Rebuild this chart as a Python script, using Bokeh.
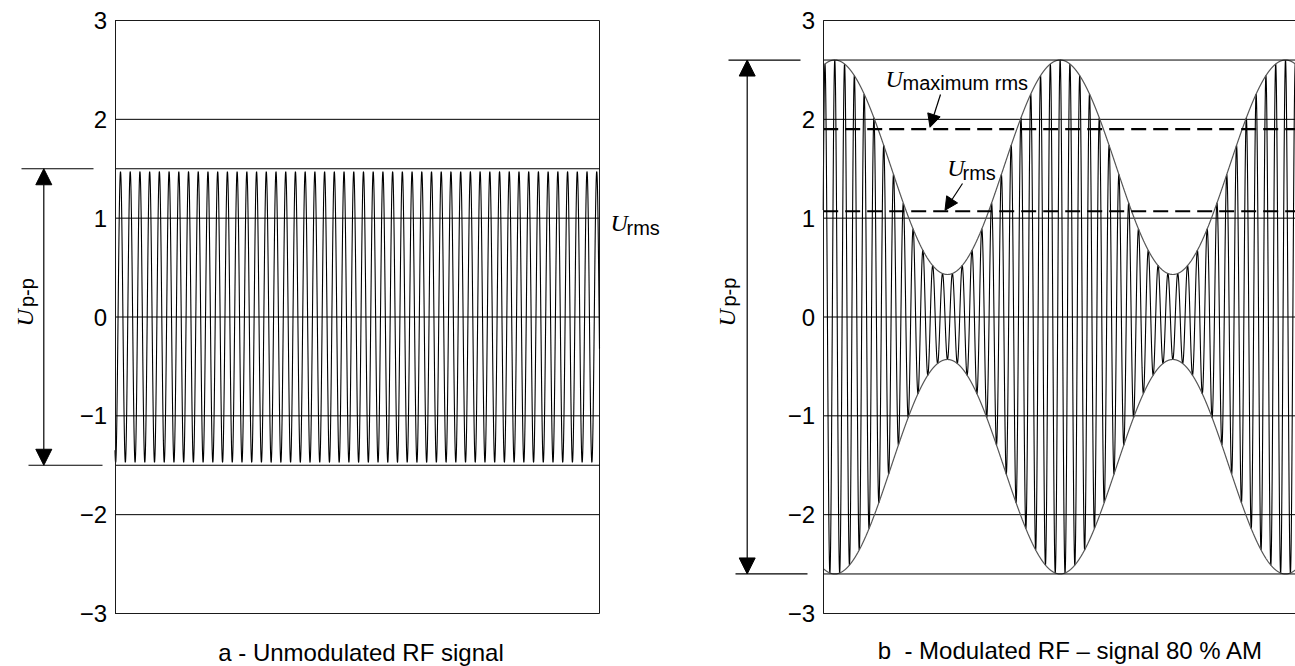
import numpy as np
from bokeh.plotting import figure
from bokeh.layouts import row
from bokeh.models import (Range1d, FixedTicker, LinearAxis, Label, Arrow,
                          NormalHead)
from bokeh.embed import file_html
from bokeh.resources import INLINE

# ---------------- data ----------------
y_ticks = [-3, -2, -1, 0, 1, 2, 3]
y_tick_labels = ["\u22123", "\u22122", "\u22121", "0", "1", "2", "3"]
grid_levels = [-2, -1, 0, 1, 2]

# panel a : unmodulated RF carrier
a_periods_shown = 49.85   # carrier periods across the plot box
a_amplitude = 1.47        # crest value
a_first_crest = 0.565     # position of the first crest (periods)
a_pp_level = 1.5          # U p-p marker level (+/-)
a_rms_level = 1.0

# panel b : 80 % AM modulated carrier
b_periods_shown = 48.2
b_env_mean = 1.515        # mean envelope value
b_env_swing = 1.085       # envelope swing
b_env_period = 23.0       # carrier periods per modulation period
b_first_crest = 1.18
b_pp_level = 2.6
b_max_rms = 1.9
b_rms = 1.07

caption_a = "a - Unmodulated RF signal"
caption_b = "b \u00a0- Modulated RF \u2013 signal 80 % AM"

SANS = "Liberation Sans"
SERIF = "Liberation Serif"
INK = "#1a1a1a"

# ---------------- layout geometry (page pixels) ----------------
H = 666
BOX_TOP, BOX_BOTTOM = 20, 613
PPU = (BOX_BOTTOM - BOX_TOP) / 6.0     # pixels per volt
LABEL_SHIFT = 8                         # compensation for label anchoring

# waveforms
t_a = np.linspace(0, a_periods_shown, 6000)
y_a = a_amplitude * np.cos(2 * np.pi * (t_a - a_first_crest))

t_b = np.linspace(0, b_periods_shown, 6000)
env_b = b_env_mean + b_env_swing * np.cos(2 * np.pi * (t_b - b_first_crest) / b_env_period)
y_b = env_b * np.cos(2 * np.pi * (t_b - b_first_crest))


class Panel:
    def __init__(self, page_x0, width, box_left, box_right, periods):
        self.page_x0 = page_x0
        self.box_left = box_left
        self.ppx = (box_right - box_left) / periods
        self.periods = periods
        x0 = (page_x0 - box_left) / self.ppx
        x1 = (page_x0 + width - box_left) / self.ppx
        y0 = -3 - (H - BOX_BOTTOM) / PPU
        y1 = 3 + BOX_TOP / PPU
        p = figure(width=width, height=H, x_range=Range1d(x0, x1),
                   y_range=Range1d(y0, y1), output_backend="svg",
                   toolbar_location=None, min_border=0,
                   x_axis_location=None, y_axis_location=None)
        p.outline_line_color = None
        p.background_fill_color = "white"
        p.border_fill_color = "white"
        p.grid.visible = False
        ya = LinearAxis(fixed_location=0, bounds=(-3, 3),
                        ticker=FixedTicker(ticks=y_ticks))
        ya.major_label_overrides = {t: s for t, s in zip(y_ticks, y_tick_labels)}
        ya.major_tick_line_color = None
        ya.minor_tick_line_color = None
        ya.major_tick_out = 0
        ya.major_tick_in = 0
        ya.major_label_standoff = 8
        ya.major_label_text_font = SANS
        ya.major_label_text_font_size = "24px"
        ya.major_label_text_color = "black"
        ya.axis_line_color = INK
        ya.axis_line_width = 1
        p.add_layout(ya, "left")
        self.p = p

    def X(self, px):
        return (px - self.box_left) / self.ppx

    def Y(self, py):
        return (BOX_BOTTOM + BOX_TOP) / 2.0 / PPU - py / PPU

    def seg(self, x0, x1, y0, y1, heads=None, width=1.2, size=16):
        kw = dict(x_start=x0, y_start=y0, x_end=x1, y_end=y1,
                  line_color="black", line_width=width, start=None, end=None)
        if heads in ("both", "start"):
            kw["start"] = NormalHead(size=size, fill_color="black", line_color="black")
        if heads in ("both", "end"):
            kw["end"] = NormalHead(size=size, fill_color="black", line_color="black")
        self.p.add_layout(Arrow(**kw))

    def _label(self, px, py, text, font, style, size, angle, align="left"):
        # text baseline given in page pixels; shift against the anchoring offset
        if angle:
            px = px - LABEL_SHIFT
        else:
            py = py - LABEL_SHIFT
        self.p.add_layout(Label(x=self.X(px), y=self.Y(py), text=text,
                                text_font=font, text_font_style=style,
                                text_font_size=size, text_color="black",
                                angle=angle, text_baseline="alphabetic",
                                text_align=align))

    def u_label(self, pxu, pyu, sub, pxs, pys, angle=0.0):
        self._label(pxu, pyu, "U", SERIF, "italic", "24px", angle)
        self._label(pxs, pys, sub, SANS, "normal", "20px", angle)

    def caption(self, px, py, text):
        self._label(px, py, text, SANS, "normal", "24px", 0.0, align="center")

    def box(self, right_border=True):
        p = self.p
        e = self.periods
        p.segment(x0=[0] * len(grid_levels), x1=[e] * len(grid_levels),
                  y0=grid_levels, y1=grid_levels, line_color="black", line_width=1)
        p.segment(x0=[0, 0], x1=[e, e], y0=[3, -3], y1=[3, -3],
                  line_color=INK, line_width=1)
        if right_border:
            p.segment(x0=[e], x1=[e], y0=[-3], y1=[3], line_color=INK, line_width=1)


# ---------------- panel a ----------------
A = Panel(0, 700, 114.5, 599, a_periods_shown)
A.box(right_border=True)
pa = A.p
pa.line(t_a, y_a, line_color="black", line_width=1.1)
pa.segment(x0=[0, 0], x1=[a_periods_shown] * 2, y0=[a_pp_level, -a_pp_level],
           y1=[a_pp_level, -a_pp_level], line_color="black", line_width=1)
A.seg(A.X(21), A.X(93), a_pp_level, a_pp_level)
A.seg(A.X(28), A.X(102), -a_pp_level, -a_pp_level)
A.seg(A.X(43.3), A.X(43.3), -a_pp_level, a_pp_level, heads="both")
A.u_label(32, 326, "p-p", 34, 306.5, angle=np.pi / 2)
A.u_label(610, 230, "rms", 626, 235)
A.caption(360.5, 660, caption_a)

# ---------------- panel b ----------------
B = Panel(700, 595, 822.7, 1295, b_periods_shown)
B.box(right_border=False)
pb = B.p
pb.line(t_b, y_b, line_color="black", line_width=1.1)
pb.line(t_b, env_b, line_color="#555555", line_width=1.2)
pb.line(t_b, -env_b, line_color="#555555", line_width=1.2)
pb.segment(x0=[0, 0], x1=[b_periods_shown] * 2, y0=[b_pp_level, -b_pp_level],
           y1=[b_pp_level, -b_pp_level], line_color="black", line_width=1)
pb.segment(x0=[0, 0], x1=[b_periods_shown] * 2, y0=[b_max_rms, b_rms],
           y1=[b_max_rms, b_rms], line_color="black", line_width=2.2,
           line_dash="15 7")
B.seg(B.X(728), B.X(800), b_pp_level, b_pp_level)
B.seg(B.X(735), B.X(807), -b_pp_level, -b_pp_level)
B.seg(B.X(746.7), B.X(746.7), -b_pp_level, b_pp_level, heads="both")
B.u_label(734, 326, "p-p", 736.5, 306, angle=np.pi / 2)
B.u_label(885, 86, "maximum rms", 902, 90)
B.u_label(946.7, 175, "rms", 962, 180)
B.seg(B.X(940), B.X(929.5), B.Y(94), b_max_rms + 0.02, heads="end", width=1.2, size=13)
B.seg(B.X(962), B.X(944.5), B.Y(183), b_rms + 0.01, heads="end", width=1.2, size=13)
B.caption(1070, 658, caption_b)

layout = row(pa, pb)
open("out.html", "w").write(file_html(layout, INLINE))
